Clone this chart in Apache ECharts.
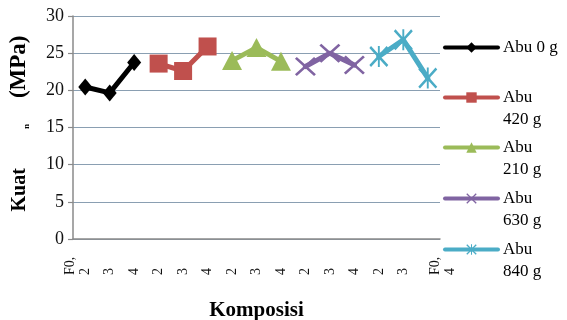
<!DOCTYPE html>
<html>
<head>
<meta charset="utf-8">
<script src="https://cdn.jsdelivr.net/npm/echarts@6/dist/echarts.min.js"></script>
<style>html,body{margin:0;padding:0;background:#fff}#c{width:567px;height:320px}</style>
</head>
<body>
<div id="c"></div>
<script>
// ---- data ----
const categories = ['c1','c2','c3','c4','c5','c6','c7','c8','c9','c10','c11','c12','c13','c14','c15'];
const tickLabels = ['F0,\n2\n ', '3', '4', '2', '3', '4', '2', '3', '4', '2', '3', '4', '2', '3', ' \n \nF0,\n4'];
const seriesNames = ['Abu 0 g', 'Abu 420 g', 'Abu 210 g', 'Abu 630 g', 'Abu 840 g'];
const legendLabels = ['Abu 0 g', ' \nAbu\n420 g', ' \nAbu\n210 g', ' \nAbu\n630 g', ' \nAbu\n840 g'];
const abu0   = [20.45, 19.65, 23.75];
const abu420 = [23.6, 22.6, 25.9];
const abu210 = [24.0, 25.75, 23.9];
const abu630 = [23.2, 25.0, 23.4];
const abu840 = [24.55, 26.8, 21.65];
const yTicks = [0, 5, 10, 15, 20, 25, 30];

// ---- styling ----
const FONT = 'Liberation Serif';
const colors = ['#000000', '#C0504D', '#9BBB59', '#8064A2', '#4BACC6'];
const xSym = 'path://M0,1.8L1.8,0L10,8.2L18.2,0L20,1.8L11.8,10L20,18.2L18.2,20L10,11.8L1.8,20L0,18.2L8.2,10Z';
const starSym = 'path://M0,1.8L1.8,0L10,8.2L18.2,0L20,1.8L11.8,10L20,18.2L18.2,20L10,11.8L1.8,20L0,18.2L8.2,10Z M9,0L11,0L11,20L9,20Z';
const symbols = ['diamond', 'rect', 'triangle', xSym, starSym];
const symbolSizes = [[14, 17], 18, [20, 19], [21, 19], [19, 21]];
const groups = [abu0, abu420, abu210, abu630, abu840];

function padded(vals, gi) {
  const arr = categories.map(() => null);
  vals.forEach((v, i) => { arr[gi * 3 + i] = v; });
  return arr;
}

const series = groups.map((vals, gi) => ({
  name: seriesNames[gi],
  type: 'line',
  data: padded(vals, gi),
  symbol: symbols[gi],
  symbolSize: symbolSizes[gi],
  showAllSymbol: true,
  connectNulls: false,
  color: colors[gi],
  lineStyle: { width: 5, color: colors[gi], join: 'round', cap: 'round' },
  itemStyle: { color: colors[gi], borderWidth: 0 },
  emphasis: { disabled: true },
  animation: false,
  z: 2 + gi
}));

const legendTops = [36.5, 64.5, 114.5, 165.5, 216.5];
const legends = seriesNames.map((n, i) => ({
  data: [n],
  left: 443,
  top: legendTops[i],
  padding: 0,
  orient: 'vertical',
  itemWidth: 53,
  itemHeight: 13,
  selectedMode: false,
  formatter: () => legendLabels[i],
  lineStyle: { width: 4 },
  textStyle: { fontFamily: FONT, fontSize: 17, color: '#000', lineHeight: 22 }
}));

const chart = echarts.init(document.getElementById('c'), null, { renderer: 'canvas' });
chart.setOption({
  animation: false,
  backgroundColor: '#ffffff',
  grid: { left: 73, right: 127, top: 16, bottom: 81, containLabel: false, outerBoundsMode: 'none' },
  legend: legends,
  xAxis: {
    type: 'category',
    data: categories,
    boundaryGap: true,
    name: 'Komposisi',
    nameLocation: 'middle',
    nameGap: 61,
    nameTextStyle: { fontFamily: FONT, fontSize: 21, fontWeight: 'bold', color: '#000' },
    axisLine: { lineStyle: { color: '#8a8a8a', width: 1.5 } },
    axisTick: { show: false },
    axisLabel: {
      interval: 0, rotate: 90, align: 'left', margin: 36,
      fontFamily: FONT, fontSize: 14, lineHeight: 15, color: '#111',
      formatter: (v, idx) => tickLabels[idx]
    },
    splitLine: { show: false }
  },
  yAxis: {
    type: 'value',
    min: yTicks[0], max: yTicks[yTicks.length - 1], interval: 5,
    name: '{g0|}{b|Kuat}{g1|}{s|n}{g2|}{m|(MPa)}',
    nameLocation: 'middle',
    nameGap: 42,
    nameTextStyle: {
      color: '#000',
      rich: {
        g0: { width: 8 },
        b: { fontFamily: FONT, fontSize: 20, fontWeight: 'bold', color: '#000' },
        g1: { width: 39 },
        s: { fontFamily: FONT, fontSize: 9, fontWeight: 'bold', color: '#000', verticalAlign: 'bottom' },
        g2: { width: 26 },
        m: { fontFamily: FONT, fontSize: 23, fontWeight: 'bold', color: '#000' }
      }
    },
    axisLine: { show: true, lineStyle: { color: '#8a8a8a', width: 1.5 } },
    axisTick: { show: true, length: 5, lineStyle: { color: '#8a8a8a', width: 1.2 } },
    axisLabel: { fontFamily: FONT, fontSize: 18, color: '#111', margin: 9 },
    splitLine: { lineStyle: { color: '#8A9FB2', width: 1.2 } }
  },
  series: series
});
</script>
</body>
</html>
